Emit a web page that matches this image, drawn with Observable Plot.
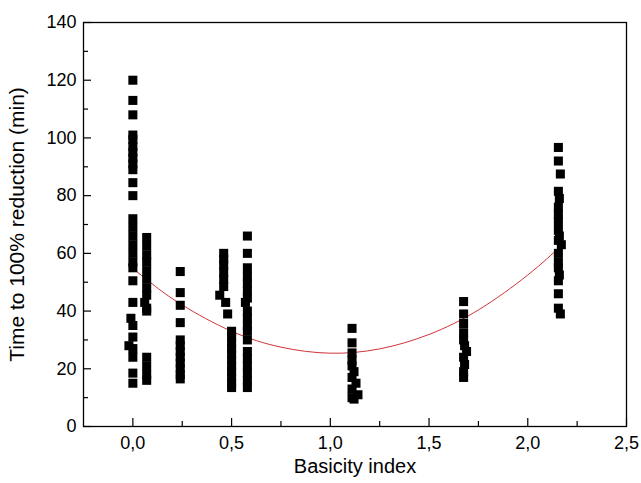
<!DOCTYPE html>
<html>
<head>
<meta charset="utf-8">
<script src="https://cdn.jsdelivr.net/npm/d3@7"></script>
<script src="https://cdn.jsdelivr.net/npm/@observablehq/plot@0.6"></script>
<style>
  html, body { margin: 0; padding: 0; background: #fff; }
  #chart svg { display: block; }
</style>
</head>
<body>
<div id="chart"></div>
<script>
// Scatter data: basicity index (x) and time to 100% reduction (y)
const xA = [0.0,0.0,0.0,0.0,0.0,0.0,0.0,0.0,0.0,0.0,0.0,0.0,0.0,0.0,0.0,0.0,0.0,0.0,0.0,0.0,0.0,-0.01,0.0,0.0,-0.02,0.0,0.0,0.0,0.0];
const yA = [120,113,108,101,99.5,97,95,93,91,89,84.5,80,72,69,66,63,60,57,55,50.5,43,37.5,35,31,28,27,24,18.5,15];

const xB = [0.07,0.07,0.07,0.07,0.07,0.07,0.07,0.07,0.06,0.07,0.07,0.07,0.07,0.07,0.07];
const yB = [65.5,62.5,59.5,57,54,51,48,45.5,43,41,40,24,21,18,16];

const xC = [0.24,0.24,0.24,0.24,0.24,0.24,0.24,0.24,0.24,0.24,0.24,0.24];
const yC = [53.7,46.4,42,36,30,28,26,24,22,20,18,16.5];

const xD = [0.46,0.46,0.46,0.46,0.46,0.46,0.44,0.47,0.48];
const yD = [60,58,56,53.5,51,48.5,45.5,43,39];

const xE = [0.5,0.5,0.5,0.5,0.5,0.5,0.5,0.5,0.5,0.5,0.5];
const yE = [33,31,29,27,25,23,21,19,17,15,13.5];

const xF = [0.58,0.58,0.58,0.58,0.58,0.58,0.58,0.57,0.58,0.58,0.58,0.58,0.58,0.58,0.58,0.58,0.58,0.58,0.58];
const yF = [66,60,55,52,49.5,47,44.5,43,40,37.5,35,33,30,26,23.5,21,18.5,16,13.5];

const xG = [1.11,1.11,1.11,1.11,1.11,1.12,1.11,1.13,1.11,1.14,1.11,1.12];
const yG = [34,29,25.5,23,21,19,17,15,13,11,10,9.5];

const xH = [1.675,1.675,1.675,1.675,1.675,1.68,1.69,1.675,1.68,1.675,1.675];
const yH = [43.3,39,35.7,32.5,30,28,26,24,21.5,19,17];

const xI = [2.155,2.155,2.165,2.155,2.16,2.155,2.155,2.155,2.155,2.16,2.155,2.17,2.155,2.155,2.155,2.16,2.155,2.155,2.155,2.165];
const yI = [96.7,92,87.5,81.5,79,76,73.5,71,68,66,64.5,63,60,57,55,52.5,50.5,46,41,39];

// Fitted (red) curve
const fitX = [-0.01,0.1,0.25,0.5,0.75,1.0,1.25,1.5,1.75,2.0,2.17];
const fitY = [55.3,49.3,42.1,33.0,27.5,25.4,26.9,31.9,40.4,52.5,62.7];

// Axis ticks
const xMajor = [0, 0.5, 1.0, 1.5, 2.0, 2.5];
const xMinor = [0.25, 0.75, 1.25, 1.75, 2.25];
const yMajor = [0, 20, 40, 60, 80, 100, 120, 140];
const yMinor = [10, 30, 50, 70, 90, 110, 130];

const xs = [xA, xB, xC, xD, xE, xF, xG, xH, xI];
const ys = [yA, yB, yC, yD, yE, yF, yG, yH, yI];
const points = xs.flatMap((xa, i) => xa.map((x, j) => ({x, y: ys[i][j]})));
const fit = fitX.map((x, i) => ({x, y: fitY[i]}));

const fmtComma = d => d3.format(".1f")(d).replace(".", ",");
const font = "Liberation Sans, Arial, sans-serif";

const chart = Plot.plot({
  width: 641,
  height: 483,
  marginLeft: 83,
  marginRight: 15,
  marginTop: 22,
  marginBottom: 57,
  style: {fontFamily: font, fontSize: "18px", color: "#000", background: "#fff"},
  x: {domain: [-0.25, 2.5]},
  y: {domain: [0, 140]},
  marks: [
    Plot.line(fit, {x: "x", y: "y", stroke: "#d0343a", strokeWidth: 1, curve: "natural"}),
    Plot.dot(points, {x: "x", y: "y", symbol: "square", r: 5.1, fill: "#000", stroke: "none"}),
    // major ticks (inward)
    Plot.axisX(xMajor, {tickSize: -8, tickFormat: fmtComma, tickPadding: 18, fontSize: 18, label: null, strokeWidth: 1.2}),
    Plot.axisX(xMinor, {tickSize: -5, tickFormat: null, text: null, label: null, strokeWidth: 1.2}),
    Plot.axisY(yMajor, {tickSize: -8, tickPadding: 15, fontSize: 18, label: null, strokeWidth: 1.2}),
    Plot.axisY(yMinor, {tickSize: -5, text: null, label: null, strokeWidth: 1.2}),
    Plot.frame({stroke: "#000", strokeWidth: 1.3}),
    Plot.text(["Basicity index"], {frameAnchor: "bottom", dy: 46, fontSize: 20, fill: "#000"}),
    Plot.text(["Time to 100% reduction (min)"], {frameAnchor: "left", textAnchor: "middle", dx: -66, rotate: -90, fontSize: 21, fill: "#000"})
  ]
});
document.getElementById("chart").appendChild(chart);
</script>
</body>
</html>
